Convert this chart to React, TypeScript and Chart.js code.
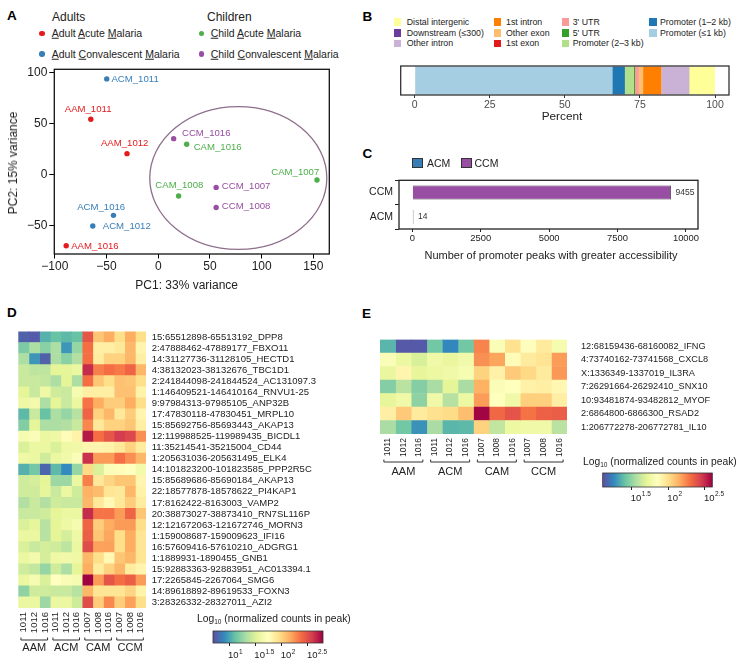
import React, { useEffect, useRef } from 'react';
import { Chart, registerables } from 'chart.js';
Chart.register(...registerables);

const FONT = '"Liberation Sans", Arial, Helvetica, sans-serif';
Chart.defaults.font.family = FONT;
Chart.defaults.color = '#222';

// ---------------- Panel A data ----------------
const sampleNames = ['ACM_1011', 'AAM_1011', 'AAM_1012', 'CCM_1016', 'CAM_1016', 'CAM_1007', 'CAM_1008', 'CCM_1007', 'CCM_1008', 'ACM_1016', 'ACM_1012', 'AAM_1016'];
const pc1Values = [-49.8, -65.2, -30.2, 14.9, 27.5, 153.5, 19.7, 56.0, 56.0, -43.3, -63.3, -89.0];
const pc2Values = [93.5, 54.0, 20.4, 35.1, 29.6, -5.3, -21.0, -12.6, -32.2, -39.9, -50.3, -69.6];
const pcXTicks = [-100, -50, 0, 50, 100, 150];
const pcYTicks = [-50, 0, 50, 100];
const ellipseCenter = [77.4, -3.4];
const ellipseRadii = [85.6, 69.8];
const legendAdults = ['Adult Acute Malaria', 'Adult Convalescent Malaria'];
const legendChildren = ['Child Acute Malaria', 'Child Convalescent Malaria'];

// ---------------- Panel B data ----------------
const featureNames = ['Promoter (≤1 kb)', 'Promoter (1–2 kb)', 'Promoter (2–3 kb)', "5' UTR", "3' UTR", '1st exon', 'Other exon', '1st intron', 'Other intron', 'Downstream (≤300)', 'Distal intergenic'];
const featurePercent = [65.8, 4.2, 3.0, 0.35, 1.2, 0.1, 1.4, 6.1, 9.2, 0.05, 8.6];
const featureLegendOrder = ['Distal intergenic', 'Downstream (≤300)', 'Other intron', '1st intron', 'Other exon', '1st exon', "3' UTR", "5' UTR", 'Promoter (2–3 kb)', 'Promoter (1–2 kb)', 'Promoter (≤1 kb)'];
const percentTicks = [0, 25, 50, 75, 100];

// ---------------- Panel C data ----------------
const contrastGroups = ['CCM', 'ACM'];
const promoterPeakCounts = [9455, 14];
const peakTicks = [0, 2500, 5000, 7500, 10000];

// ---------------- Panel D data ----------------
const dRowLabels = [
  '15:65512898-65513192_DPP8', '2:47888462-47889177_FBXO11', '14:31127736-31128105_HECTD1',
  '4:38132023-38132676_TBC1D1', '2:241844098-241844524_AC131097.3', '1:146409521-146410164_RNVU1-25',
  '9:97984313-97985105_ANP32B', '17:47830118-47830451_MRPL10', '15:85692756-85693443_AKAP13',
  '12:119988525-119989435_BICDL1', '11:35214541-35215004_CD44', '1:205631036-205631495_ELK4',
  '14:101823200-101823585_PPP2R5C', '15:85689686-85690184_AKAP13', '22:18577878-18578622_PI4KAP1',
  '17:8162422-8163003_VAMP2', '20:38873027-38873410_RN7SL116P', '12:121672063-121672746_MORN3',
  '1:159008687-159009623_IFI16', '16:57609416-57610210_ADGRG1', '1:1889931-1890455_GNB1',
  '15:92883363-92883951_AC013394.1', '17:2265845-2267064_SMG6', '14:89618892-89619533_FOXN3',
  '3:28326332-28327011_AZI2',
];
const sampleColumns = ['1011', '1012', '1016', '1011', '1012', '1016', '1007', '1008', '1016', '1007', '1008', '1016'];
const columnGroups = ['AAM', 'ACM', 'CAM', 'CCM'];
// log10(normalized counts in peak)
const dLogCounts = [
  [0.76, 0.74, 1.05, 1.12, 1.08, 1.12, 2.47, 2.06, 2.16, 1.95, 2.16, 1.95],
  [1.18, 1.33, 1.22, 1.33, 0.95, 1.26, 2.37, 1.85, 1.85, 1.89, 2.12, 1.81],
  [1.33, 0.95, 0.76, 1.33, 1.22, 1.35, 2.37, 1.87, 2.01, 2.01, 2.12, 1.85],
  [1.43, 1.39, 1.39, 1.53, 1.53, 1.58, 2.64, 2.31, 2.37, 2.33, 2.41, 2.12],
  [1.43, 1.43, 1.41, 1.33, 1.53, 1.33, 2.37, 2.06, 1.95, 2.08, 2.06, 1.95],
  [1.53, 1.43, 1.60, 1.45, 1.43, 1.66, 1.85, 1.85, 1.85, 2.08, 2.08, 1.83],
  [1.60, 1.64, 1.33, 1.53, 1.43, 1.58, 2.35, 2.16, 2.03, 2.03, 2.16, 1.95],
  [1.08, 1.43, 1.12, 1.33, 1.26, 1.37, 2.41, 2.01, 2.12, 1.89, 2.03, 1.81],
  [1.20, 1.53, 1.33, 1.33, 1.35, 1.43, 2.28, 1.89, 2.01, 2.01, 2.06, 1.85],
  [1.66, 1.70, 1.58, 1.60, 1.76, 1.83, 2.70, 2.37, 2.47, 2.58, 2.53, 2.26],
  [1.49, 1.58, 1.58, 1.49, 1.60, 1.62, 1.81, 1.81, 1.83, 1.89, 2.01, 1.87],
  [1.60, 1.58, 1.45, 1.58, 1.62, 1.70, 2.62, 2.22, 2.22, 2.37, 2.26, 2.12],
  [1.05, 1.16, 0.78, 1.08, 0.91, 1.26, 1.97, 1.49, 1.70, 1.76, 1.74, 1.64],
  [1.45, 1.47, 1.53, 1.28, 1.28, 1.58, 2.31, 1.89, 1.99, 2.06, 2.06, 1.81],
  [1.45, 1.45, 1.55, 1.43, 1.58, 1.45, 2.14, 2.10, 1.91, 1.89, 2.12, 1.83],
  [1.35, 1.43, 1.35, 1.45, 1.43, 1.43, 2.12, 1.89, 1.78, 1.89, 2.03, 1.87],
  [1.43, 1.43, 1.45, 1.53, 1.58, 1.58, 2.64, 2.35, 2.35, 2.22, 2.41, 2.06],
  [1.49, 1.55, 1.37, 1.53, 1.60, 1.66, 2.41, 2.03, 2.16, 2.22, 2.22, 1.95],
  [1.58, 1.58, 1.37, 1.53, 1.47, 1.60, 2.43, 2.06, 2.18, 1.95, 2.16, 1.91],
  [1.49, 1.43, 1.47, 1.45, 1.39, 1.58, 2.51, 2.20, 2.20, 1.95, 2.16, 1.91],
  [1.58, 1.64, 1.47, 1.60, 1.62, 1.60, 2.12, 1.95, 1.78, 2.06, 2.12, 1.91],
  [1.45, 1.41, 1.26, 1.45, 1.33, 1.53, 2.16, 1.87, 2.01, 2.12, 1.87, 1.81],
  [1.58, 1.66, 1.49, 1.74, 1.68, 1.66, 2.78, 2.22, 2.47, 2.37, 2.43, 2.22],
  [1.24, 1.45, 1.45, 1.43, 1.43, 1.37, 2.12, 1.91, 1.91, 1.91, 1.99, 1.83],
  [1.58, 1.58, 1.28, 1.58, 1.58, 1.45, 2.51, 2.03, 2.28, 2.03, 2.20, 1.95],
];
const dColorDomain = [0.695, 2.786];
const dColorTicks = [1, 1.5, 2, 2.5];
const dColorTickLabels = ['1', '1.5', '2', '2.5'];

// ---------------- Panel E data ----------------
const eRowLabels = [
  '12:68159436-68160082_IFNG', '4:73740162-73741568_CXCL8', 'X:1336349-1337019_IL3RA',
  '7:26291664-26292410_SNX10', '10:93481874-93482812_MYOF', '2:6864800-6866300_RSAD2',
  '1:206772278-206772781_IL10',
];
const eLogCounts = [
  [1.37, 1.13, 1.13, 1.43, 1.25, 1.43, 2.25, 1.82, 1.99, 1.86, 1.95, 1.79],
  [1.82, 1.74, 1.67, 1.76, 1.73, 1.77, 2.22, 2.17, 1.87, 1.95, 1.98, 2.19],
  [1.73, 1.90, 1.71, 1.74, 1.76, 1.80, 2.04, 1.92, 2.07, 2.02, 1.95, 2.20],
  [1.47, 1.59, 1.47, 1.55, 1.70, 1.55, 2.14, 1.82, 1.85, 1.92, 1.93, 1.89],
  [1.71, 1.76, 1.49, 1.76, 1.58, 1.74, 2.19, 1.85, 1.76, 2.05, 2.05, 1.93],
  [1.93, 2.07, 1.95, 1.99, 2.01, 2.10, 2.59, 2.32, 2.38, 2.29, 2.34, 2.35],
  [1.55, 1.43, 1.28, 1.55, 1.37, 1.38, 2.04, 1.61, 1.74, 1.76, 1.76, 1.59],
];
const eColorDomain = [1.104, 2.6];
const eColorTicks = [1.5, 2, 2.5];
const eColorTickLabels = ['1.5', '2', '2.5'];

// ---------------- Styles ----------------
const groupColors: Record<string, string> = { AAM: '#E41A1C', ACM: '#377EB8', CAM: '#4DAF4A', CCM: '#984EA3' };
const featureColors: Record<string, string> = {
  'Promoter (≤1 kb)': '#A6CEE3', 'Promoter (1–2 kb)': '#1F78B4', 'Promoter (2–3 kb)': '#B2DF8A',
  "5' UTR": '#33A02C', "3' UTR": '#FB9A99', '1st exon': '#E31A1C', 'Other exon': '#FDBF6F',
  '1st intron': '#FF7F00', 'Other intron': '#CAB2D6', 'Downstream (≤300)': '#6A3D9A', 'Distal intergenic': '#FFFF99',
};
// [dx, dy, align] in px for the PCA point labels
const labelPlacement: [number, number, CanvasTextAlign][] = [
  [4.7, 0, 'left'], [-2.7, -9.7, 'center'], [-2.3, -10.3, 'center'], [8.3, -5.3, 'left'],
  [7, 2.7, 'left'], [2.3, -8, 'right'], [0.7, -10.3, 'center'], [5.7, -0.7, 'left'],
  [5.7, -1.3, 'left'], [-12.3, -8.3, 'center'], [10, 0.7, 'left'], [5, 1, 'left'],
];
const SPECTRAL = ['#5E4FA2', '#3288BD', '#66C2A5', '#ABDDA4', '#E6F598', '#FFFFBF', '#FEE08B', '#FDAE61', '#F46D43', '#D53E4F', '#9E0142'];

function hexToRgb(h: string) {
  const n = parseInt(h.slice(1), 16);
  return [(n >> 16) & 255, (n >> 8) & 255, n & 255];
}
function spectralColor(v: number, domain: number[]) {
  let t = (v - domain[0]) / (domain[1] - domain[0]);
  t = Math.max(0, Math.min(1, t));
  const p = t * (SPECTRAL.length - 1);
  const i = Math.min(SPECTRAL.length - 2, Math.floor(p));
  const f = p - i;
  const a = hexToRgb(SPECTRAL[i]);
  const b = hexToRgb(SPECTRAL[i + 1]);
  const c = a.map((x, k) => Math.round(x + (b[k] - x) * f));
  return `rgb(${c[0]},${c[1]},${c[2]})`;
}
const fmtMinus = (v: number) => (v < 0 ? '\u2212' + Math.abs(v) : String(v));
const fmtPlain = (v: number) => String(v);

const boxPlugin = (color: string, width: number) => ({
  id: 'box',
  afterDraw(chart: any) {
    const { ctx, chartArea: a } = chart;
    ctx.save();
    ctx.strokeStyle = color;
    ctx.lineWidth = width;
    ctx.strokeRect(a.left, a.top, a.right - a.left, a.bottom - a.top);
    ctx.restore();
  },
});

// ---------------- Chart configs ----------------
function makePca() {
  return {
    type: 'scatter',
    data: {
      datasets: [{
        data: pc1Values.map((x, i) => ({ x, y: pc2Values[i] })),
        pointBackgroundColor: sampleNames.map((n) => groupColors[n.split('_')[0]]),
        pointBorderWidth: 0,
        pointRadius: 2.7,
      }],
    },
    options: {
      animation: false, responsive: false,
      layout: { padding: { left: 0, top: 9.3, right: 10.7, bottom: 0 } },
      plugins: { legend: { display: false }, tooltip: { enabled: false } },
      scales: {
        x: {
          type: 'linear', min: -100.5, max: 165.4,
          afterBuildTicks: (s: any) => { s.ticks = pcXTicks.map((v) => ({ value: v })); },
          grid: { drawOnChartArea: false, tickLength: 4.5, color: '#000', lineWidth: 1 },
          border: { display: false },
          ticks: { font: { size: 12 }, color: '#1a1a1a', padding: 1, callback: (v: number) => fmtMinus(v) },
          afterFit: (s: any) => { s.height = 46; },
        },
        y: {
          type: 'linear', min: -77.7, max: 102.9,
          afterBuildTicks: (s: any) => { s.ticks = pcYTicks.map((v) => ({ value: v })); },
          grid: { drawOnChartArea: false, tickLength: 5, color: '#000', lineWidth: 1 },
          border: { display: false },
          ticks: { font: { size: 12 }, color: '#1a1a1a', padding: 2, callback: (v: number) => fmtMinus(v) },
          afterFit: (s: any) => { s.width = 54.3; },
        },
      },
    },
    plugins: [
      boxPlugin('#111', 1.3),
      {
        id: 'ellipse',
        afterDatasetsDraw(chart: any) {
          const { ctx } = chart;
          const xs = chart.scales.x, ys = chart.scales.y;
          const cx = xs.getPixelForValue(ellipseCenter[0]);
          const cy = ys.getPixelForValue(ellipseCenter[1]);
          const rx = Math.abs(xs.getPixelForValue(ellipseCenter[0] + ellipseRadii[0]) - cx);
          const ry = Math.abs(ys.getPixelForValue(ellipseCenter[1] + ellipseRadii[1]) - cy);
          ctx.save();
          ctx.strokeStyle = '#8E6E8C';
          ctx.lineWidth = 1.3;
          ctx.beginPath();
          ctx.ellipse(cx, cy, rx, ry, 0, 0, Math.PI * 2);
          ctx.stroke();
          ctx.restore();
        },
      },
      {
        id: 'pointLabels',
        afterDraw(chart: any) {
          const { ctx } = chart;
          const xs = chart.scales.x, ys = chart.scales.y;
          ctx.save();
          ctx.font = `9.6px ${FONT}`;
          ctx.textBaseline = 'middle';
          sampleNames.forEach((n, i) => {
            const [dx, dy, al] = labelPlacement[i];
            ctx.fillStyle = groupColors[n.split('_')[0]];
            ctx.textAlign = al;
            ctx.fillText(n, xs.getPixelForValue(pc1Values[i]) + dx, ys.getPixelForValue(pc2Values[i]) + dy);
          });
          ctx.restore();
        },
      },
    ],
  };
}

function makeAnnotationBar() {
  return {
    type: 'bar',
    data: {
      labels: [''],
      datasets: featureNames.map((n, i) => ({
        label: n, data: [featurePercent[i]], backgroundColor: featureColors[n],
        borderWidth: 0, barPercentage: 0.96, categoryPercentage: 1,
      })),
    },
    options: {
      indexAxis: 'y', animation: false, responsive: false,
      layout: { padding: { left: 20.7, top: 11, right: 19, bottom: 0 } },
      plugins: { legend: { display: false }, tooltip: { enabled: false } },
      scales: {
        x: {
          type: 'linear', stacked: true, min: -4.66, max: 104.66,
          afterBuildTicks: (s: any) => { s.ticks = percentTicks.map((v) => ({ value: v })); },
          grid: { drawOnChartArea: false, tickLength: 3, color: '#333' },
          border: { display: false },
          ticks: { font: { size: 10.5 }, color: '#4d4d4d', padding: 1, callback: (v: number) => fmtPlain(v) },
          afterFit: (s: any) => { s.height = 35; },
        },
        y: { stacked: true, display: false },
      },
    },
    plugins: [boxPlugin('#333', 1.3)],
  };
}

function makePeakBar() {
  return {
    type: 'bar',
    data: {
      labels: contrastGroups,
      datasets: [{
        data: promoterPeakCounts,
        backgroundColor: contrastGroups.map((g) => groupColors[g]),
        borderColor: '#333', borderWidth: 0.8,
        barPercentage: 0.58, categoryPercentage: 1, minBarLength: 1.2,
      }],
    },
    options: {
      indexAxis: 'y', animation: false, responsive: false,
      layout: { padding: { left: 0, top: 8, right: 50, bottom: 0 } },
      plugins: { legend: { display: false }, tooltip: { enabled: false } },
      scales: {
        x: {
          type: 'linear', min: -486, max: 10440,
          afterBuildTicks: (s: any) => { s.ticks = peakTicks.map((v) => ({ value: v })); },
          grid: { drawOnChartArea: false, tickLength: 3, color: '#222' },
          border: { display: false },
          ticks: { font: { size: 9.4 }, color: '#222', padding: 1, callback: (v: number) => fmtPlain(v) },
          afterFit: (s: any) => { s.height = 21; },
        },
        y: {
          grid: { drawOnChartArea: false, tickLength: 4, color: '#222' },
          border: { display: false },
          ticks: { font: { size: 10.5 }, color: '#222', padding: 2 },
          afterFit: (s: any) => { s.width = 44; },
        },
      },
    },
    plugins: [
      boxPlugin('#222', 1.3),
      {
        id: 'valueLabels',
        afterDraw(chart: any) {
          const { ctx } = chart;
          const meta = chart.getDatasetMeta(0);
          ctx.save();
          ctx.font = `8.5px ${FONT}`;
          ctx.fillStyle = '#333';
          ctx.textBaseline = 'middle';
          ctx.textAlign = 'left';
          meta.data.forEach((bar: any, i: number) => {
            ctx.fillText(String(promoterPeakCounts[i]), bar.x + 4.5, bar.y);
          });
          ctx.restore();
        },
      },
    ],
  };
}

function makeHeatmap(rows: string[], values: number[][], domain: number[], o: any) {
  return {
    type: 'bar',
    data: {
      labels: rows,
      datasets: sampleColumns.map((c, j) => ({
        label: c,
        data: rows.map(() => 1),
        backgroundColor: values.map((r) => spectralColor(r[j], domain)),
        borderWidth: 0, barPercentage: 1, categoryPercentage: 1,
      })),
    },
    options: {
      indexAxis: 'y', animation: false, responsive: false,
      layout: { padding: { left: o.padLeft, top: o.padTop, right: 0, bottom: 0 } },
      plugins: { legend: { display: false }, tooltip: { enabled: false } },
      scales: {
        x: {
          type: 'linear', stacked: true, min: 0, max: sampleColumns.length,
          afterBuildTicks: (s: any) => { s.ticks = sampleColumns.map((_, i) => ({ value: i + 0.5 })); },
          grid: { display: false, drawTicks: false },
          border: { display: false },
          ticks: {
            autoSkip: false, minRotation: 90, maxRotation: 90, padding: o.colPad,
            font: { size: o.colFont }, color: '#222',
            callback: (_v: any, i: number) => sampleColumns[i],
          },
          afterFit: (s: any) => { s.height = o.xHeight; },
        },
        y: {
          position: 'right', stacked: true,
          grid: { display: false, drawTicks: false },
          border: { display: false },
          ticks: { autoSkip: false, padding: o.rowPad, font: { size: o.rowFont }, color: '#222' },
          afterFit: (s: any) => { s.width = o.yWidth; },
        },
      },
    },
    plugins: [{
      id: 'groupBrackets',
      afterDraw(chart: any) {
        const { ctx, chartArea: a } = chart;
        const xs = chart.scales.x;
        const per = sampleColumns.length / columnGroups.length;
        ctx.save();
        ctx.strokeStyle = '#333';
        ctx.lineWidth = 1;
        ctx.fillStyle = '#222';
        ctx.font = `11px ${FONT}`;
        ctx.textAlign = 'center';
        ctx.textBaseline = 'middle';
        columnGroups.forEach((g, gi) => {
          const x1 = xs.getPixelForValue(gi * per + 0.25);
          const x2 = xs.getPixelForValue(gi * per + per - 0.25);
          const y = a.bottom + o.bracketOff;
          ctx.beginPath();
          ctx.moveTo(x1, y - 2.5);
          ctx.lineTo(x1, y);
          ctx.lineTo(x2, y);
          ctx.lineTo(x2, y - 2.5);
          ctx.stroke();
          ctx.fillText(g, (x1 + x2) / 2, a.bottom + o.groupOff);
        });
        ctx.restore();
      },
    }],
  };
}

function makeColorbar(domain: number[], ticks: number[], tickLabels: string[], o: any) {
  return {
    type: 'scatter',
    data: { datasets: [] },
    options: {
      animation: false, responsive: false,
      layout: { padding: { left: o.padLeft, top: o.padTop, right: o.padRight, bottom: 0 } },
      plugins: { legend: { display: false }, tooltip: { enabled: false } },
      scales: {
        x: {
          type: 'linear', min: domain[0], max: domain[1],
          afterBuildTicks: (s: any) => { s.ticks = ticks.map((v) => ({ value: v })); },
          grid: { drawOnChartArea: false, tickLength: 3, color: '#222' },
          border: { display: false },
          ticks: { autoSkip: false, callback: () => '' },
          afterFit: (s: any) => { s.height = o.xHeight; },
        },
        y: { display: false, min: 0, max: 1 },
      },
    },
    plugins: [{
      id: 'gradient',
      beforeDatasetsDraw(chart: any) {
        const { ctx, chartArea: a } = chart;
        const g = ctx.createLinearGradient(a.left, 0, a.right, 0);
        SPECTRAL.forEach((c, i) => g.addColorStop(i / (SPECTRAL.length - 1), c));
        ctx.save();
        ctx.fillStyle = g;
        ctx.fillRect(a.left, a.top, a.right - a.left, a.bottom - a.top);
        ctx.strokeStyle = '#333';
        ctx.lineWidth = 0.8;
        ctx.strokeRect(a.left, a.top, a.right - a.left, a.bottom - a.top);
        ctx.restore();
      },
      afterDraw(chart: any) {
        const { ctx, chartArea: a } = chart;
        const xs = chart.scales.x;
        ctx.save();
        ctx.fillStyle = '#222';
        ctx.textAlign = 'left';
        ctx.textBaseline = 'alphabetic';
        ticks.forEach((v, i) => {
          const x0 = xs.getPixelForValue(v) - 1;
          const by = a.bottom + o.baseOff;
          ctx.font = `9.5px ${FONT}`;
          ctx.fillText('10', x0, by);
          const w = ctx.measureText('10').width;
          ctx.font = `6.5px ${FONT}`;
          ctx.fillText(tickLabels[i], x0 + w + 0.5, by - 4.3);
        });
        ctx.restore();
      },
    }],
  };
}

// ---------------- Components ----------------
function ChartCanvas({ left, top, width, height, make }: any) {
  const ref = useRef<HTMLCanvasElement>(null);
  useEffect(() => {
    const chart = new Chart(ref.current as HTMLCanvasElement, make());
    return () => chart.destroy();
  }, []);
  return <canvas ref={ref} width={width} height={height} style={{ position: 'absolute', left, top, width, height }} />;
}

function Txt({ x, y, size = 12, align = 'left', weight = 400, color = '#222', rotate = 0, children }: any) {
  const tx = align === 'left' ? '0' : align === 'center' ? '-50%' : '-100%';
  return (
    <div style={{
      position: 'absolute', left: x, top: y,
      transform: `translate(${tx}, -50%)${rotate ? ` rotate(${rotate}deg)` : ''}`,
      fontSize: size, fontWeight: weight, color, lineHeight: 1, whiteSpace: 'nowrap',
    }}>{children}</div>
  );
}

function Initials({ text }: { text: string }) {
  const words = text.split(' ');
  return (
    <>
      {words.map((w, i) => (
        <React.Fragment key={i}>
          <u>{w[0]}</u>{w.slice(1)}{i < words.length - 1 ? ' ' : ''}
        </React.Fragment>
      ))}
    </>
  );
}

function Dot({ x, y, color }: any) {
  return <div style={{ position: 'absolute', left: x - 2.8, top: y - 2.8, width: 5.6, height: 5.6, borderRadius: '50%', background: color }} />;
}

function Swatch({ x, y, size, color, border }: any) {
  return <div style={{ position: 'absolute', left: x, top: y - size / 2, width: size, height: size, background: color, boxSizing: 'border-box', border: border || 'none' }} />;
}

const bLegendColX = [[394, 406.7], [494, 506], [561.7, 572.7], [649.3, 660]];
const bLegendRowY = [22, 33, 43.3];

export default function App() {
  const legendGroupsA = [
    { x: 42, tx: 51.7, items: legendAdults, colors: [groupColors.AAM, groupColors.ACM] },
    { x: 201.7, tx: 210.7, items: legendChildren, colors: [groupColors.CAM, groupColors.CCM] },
  ];
  return (
    <div style={{ position: 'absolute', left: 0, top: 0, width: 748, height: 668, background: '#fff', fontFamily: FONT, overflow: 'hidden' }}>
      {/* Panel letters */}
      <Txt x={7} y={16} size={13.5} weight={900} color="#000">A</Txt>
      <Txt x={362.5} y={17} size={13.5} weight={900} color="#000">B</Txt>
      <Txt x={362.5} y={153.5} size={13.5} weight={900} color="#000">C</Txt>
      <Txt x={7} y={313} size={13.5} weight={900} color="#000">D</Txt>
      <Txt x={362} y={313.5} size={13.5} weight={900} color="#000">E</Txt>

      {/* Panel A legend */}
      <Txt x={52} y={16.7} size={12}>Adults</Txt>
      <Txt x={207} y={16.7} size={12}>Children</Txt>
      {legendGroupsA.map((g, gi) => g.items.map((it, i) => (
        <React.Fragment key={`${gi}-${i}`}>
          <Dot x={g.x} y={i === 0 ? 33.3 : 54} color={g.colors[i]} />
          <Txt x={g.tx} y={i === 0 ? 33.3 : 54} size={10.5}><Initials text={it} /></Txt>
        </React.Fragment>
      )))}
      <ChartCanvas left={0} top={60} width={340} height={240} make={makePca} />
      <Txt x={186.7} y={285} size={12} align="center">PC1: 33% variance</Txt>
      <Txt x={13} y={163} size={12} align="center" rotate={-90}>PC2: 15% variance</Txt>

      {/* Panel B */}
      {featureLegendOrder.map((n, i) => {
        const col = Math.floor(i / 3), row = i % 3;
        return (
          <React.Fragment key={n}>
            <Swatch x={bLegendColX[col][0]} y={bLegendRowY[row]} size={7.3} color={featureColors[n]} />
            <Txt x={bLegendColX[col][1]} y={bLegendRowY[row]} size={8.8}>{n}</Txt>
          </React.Fragment>
        );
      })}
      <ChartCanvas left={380} top={55} width={368} height={75} make={makeAnnotationBar} />
      <Txt x={562} y={117} size={11.8} align="center">Percent</Txt>

      {/* Panel C */}
      <Swatch x={412.3} y={163} size={10.5} color={groupColors.ACM} border="0.8px solid #333" />
      <Txt x={427} y={163} size={10.5}>ACM</Txt>
      <Swatch x={461} y={163} size={10.5} color={groupColors.CCM} border="0.8px solid #333" />
      <Txt x={474.5} y={163} size={10.5}>CCM</Txt>
      <ChartCanvas left={355} top={172} width={393} height={78} make={makePeakBar} />
      <Txt x={551} y={255} size={11} align="center">Number of promoter peaks with greater accessibility</Txt>

      {/* Panel D */}
      <ChartCanvas left={0} top={320} width={420} height={340}
        make={() => makeHeatmap(dRowLabels, dLogCounts, dColorDomain, {
          padLeft: 18.3, padTop: 5, yWidth: 274, xHeight: 52, colPad: 4, colFont: 9.5,
          rowPad: 5.7, rowFont: 9.5, bracketOff: 32, groupOff: 40,
        })} />
      <Txt x={197} y={620} size={10.3}>Log<sub style={{ fontSize: 6.5, verticalAlign: '-0.25em' }}>10</sub> (normalized counts in peak)</Txt>
      <ChartCanvas left={200} top={626} width={140} height={42}
        make={() => makeColorbar(dColorDomain, dColorTicks, dColorTickLabels, { padLeft: 13, padTop: 5, padRight: 17, xHeight: 25, baseOff: 15 })} />

      {/* Panel E */}
      <ChartCanvas left={370} top={320} width={378} height={165}
        make={() => makeHeatmap(eRowLabels, eLogCounts, eColorDomain, {
          padLeft: 10, padTop: 5, yWidth: 181, xHeight: 51, colPad: 4, colFont: 8.5,
          rowPad: 14, rowFont: 9.2, bracketOff: 28, groupOff: 38,
        })} />
      <Txt x={583} y={463} size={10.3}>Log<sub style={{ fontSize: 6.5, verticalAlign: '-0.25em' }}>10</sub> (normalized counts in peak)</Txt>
      <ChartCanvas left={590} top={468} width={158} height={40}
        make={() => makeColorbar(eColorDomain, eColorTicks, eColorTickLabels, { padLeft: 12.7, padTop: 5, padRight: 35.7, xHeight: 21, baseOff: 13.5 })} />
    </div>
  );
}
